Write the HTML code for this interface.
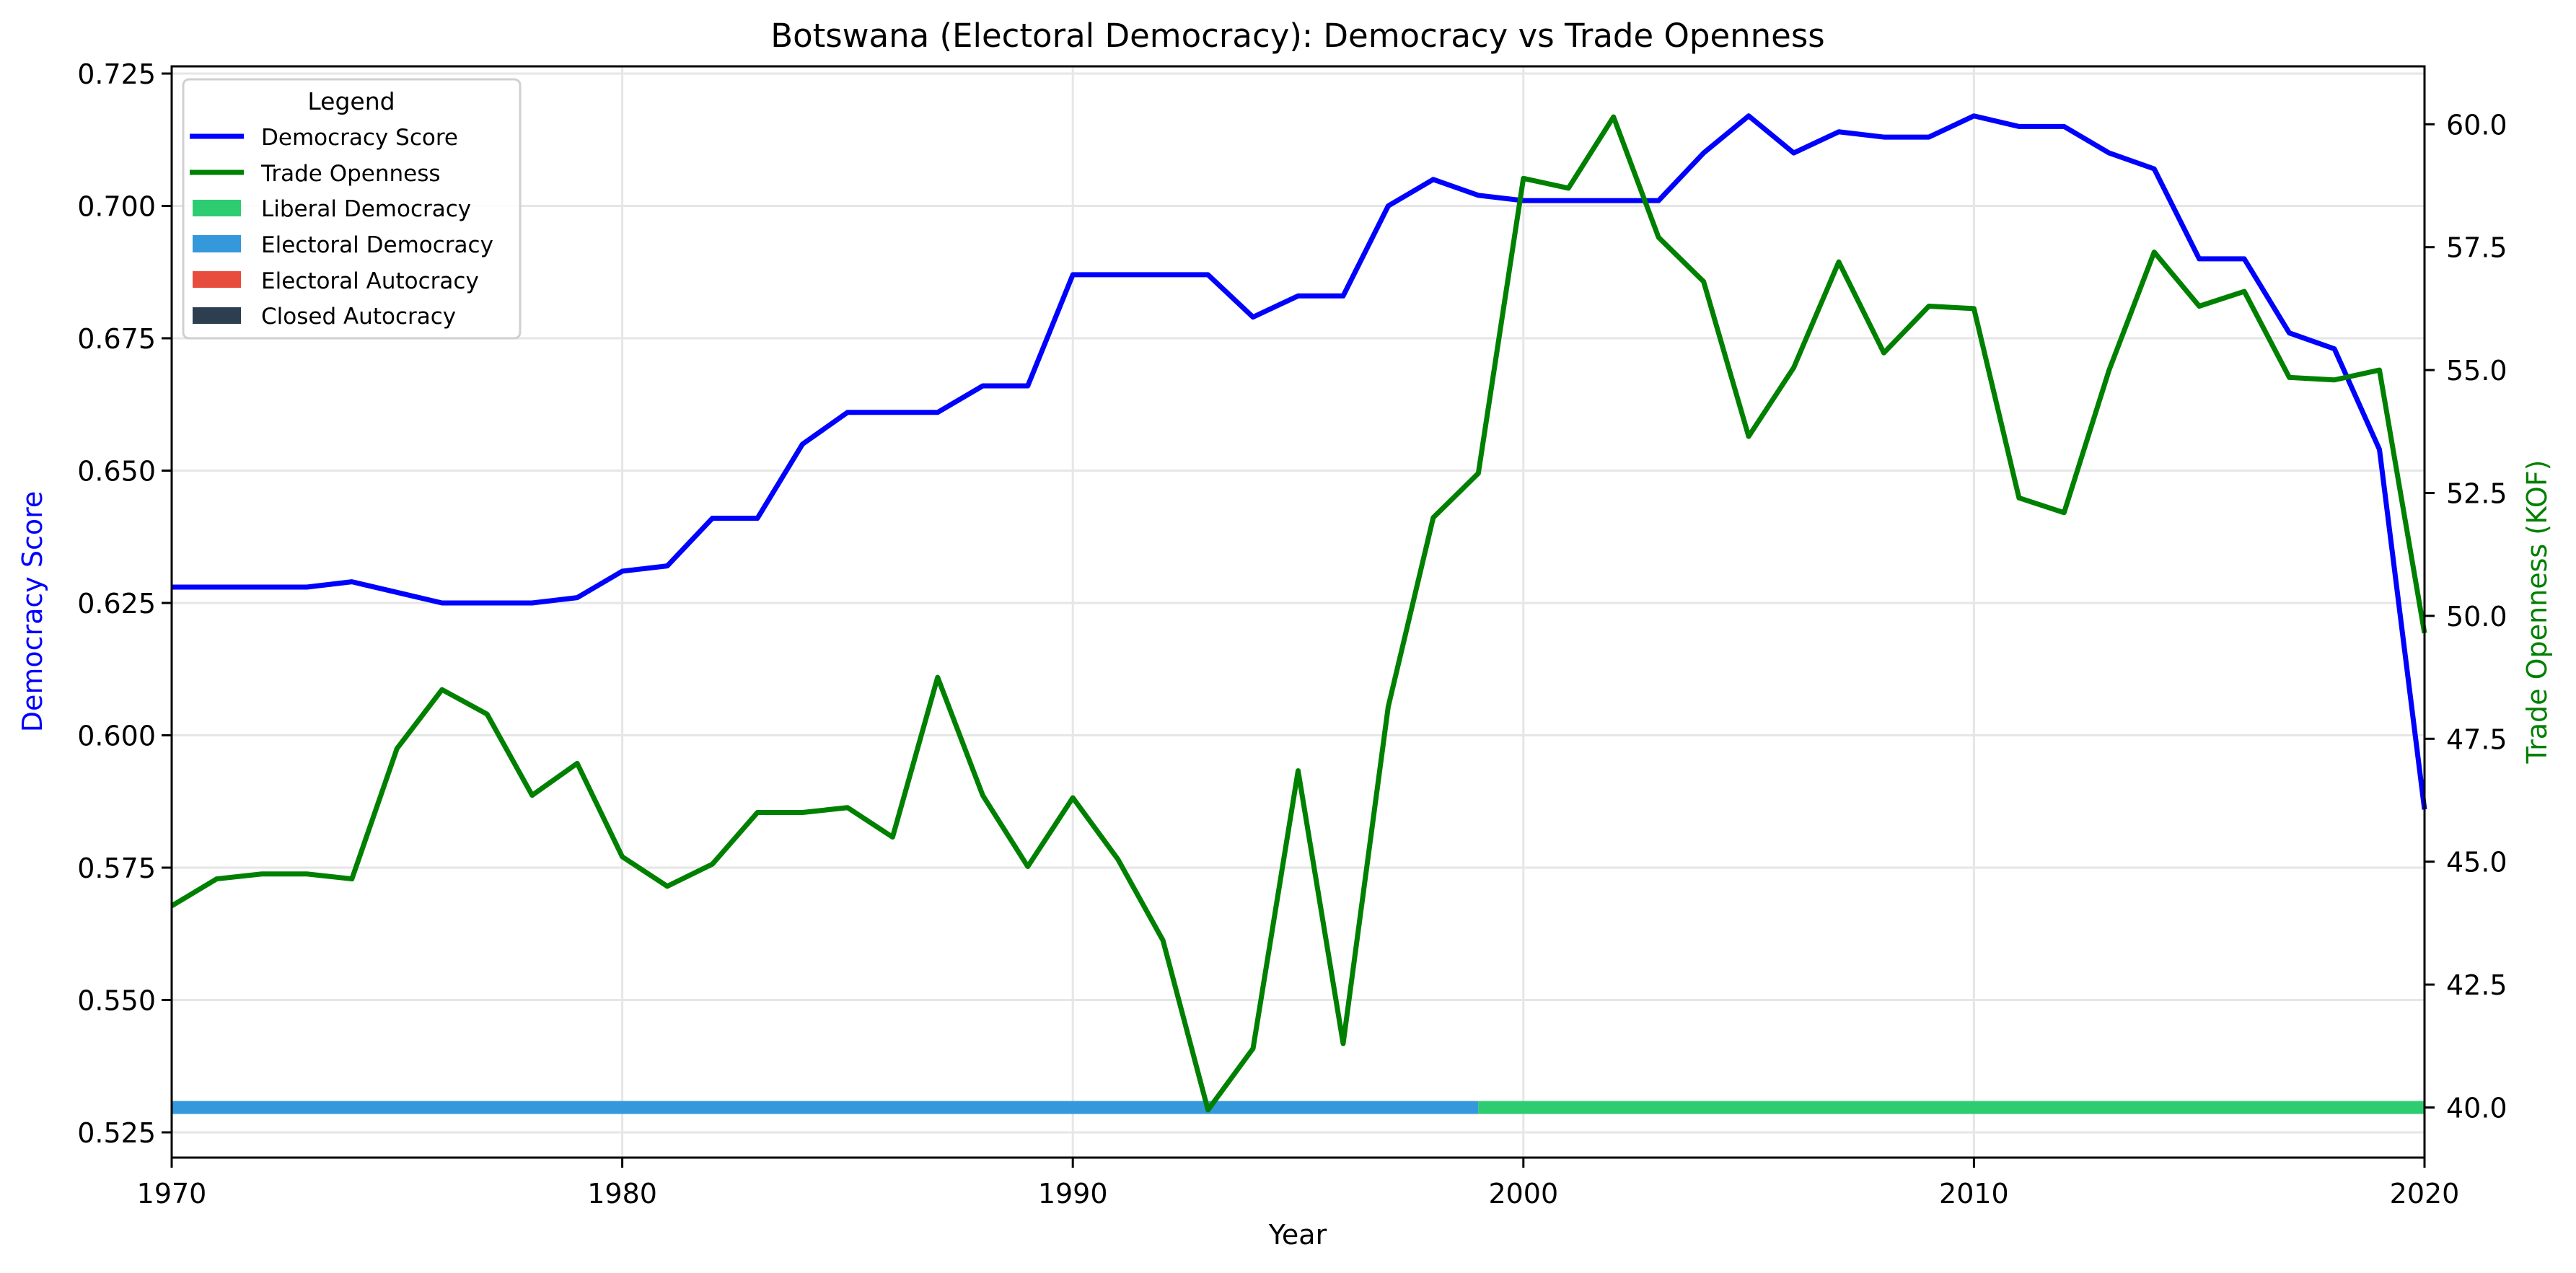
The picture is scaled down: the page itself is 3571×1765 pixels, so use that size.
<!DOCTYPE html>
<html><head><meta charset="utf-8"><style>
html,body{margin:0;padding:0;background:#fff;}
svg{display:block;font-family:"DejaVu Sans","Liberation Sans",sans-serif;}
</style></head><body>
<svg id="chart" width="3571" height="1765" viewBox="0 0 3571 1765" xmlns="http://www.w3.org/2000/svg">
<rect width="3571" height="1765" fill="#fff"/>
<g id="grid"></g>
<g id="bands"></g>
<g id="series"></g>
<g id="axes"></g>
<text x="1799" y="65" font-size="45" text-anchor="middle">Botswana (Electoral Democracy): Democracy vs Trade Openness</text>
<text x="1799" y="1725" font-size="38" text-anchor="middle">Year</text>
<text transform="translate(58,848) rotate(-90)" font-size="38" text-anchor="middle" fill="#0000ff">Democracy Score</text>
<text transform="translate(3530,848) rotate(-90)" font-size="38" text-anchor="middle" fill="#008000">Trade Openness (KOF)</text>
<g>
<rect x="254" y="110" width="467" height="359" rx="8" fill="#fff" fill-opacity="0.85" stroke="#d0d0d0" stroke-width="3"/>
<text x="487" y="152" font-size="33" text-anchor="middle">Legend</text>
<line x1="263" y1="189" x2="338" y2="189" stroke="#0000ff" stroke-width="7"/>
<text x="362" y="201" font-size="31">Democracy Score</text>
<line x1="263" y1="239" x2="338" y2="239" stroke="#008000" stroke-width="7"/>
<text x="362" y="251" font-size="31">Trade Openness</text>
<rect x="267" y="277" width="67" height="23" fill="#2ecc71"/>
<text x="362" y="300" font-size="31">Liberal Democracy</text>
<rect x="267" y="326" width="67" height="24" fill="#3498db"/>
<text x="362" y="350" font-size="31">Electoral Democracy</text>
<rect x="267" y="376" width="67" height="23" fill="#e74c3c"/>
<text x="362" y="400" font-size="31">Electoral Autocracy</text>
<rect x="267" y="426" width="67" height="23" fill="#2c3e50"/>
<text x="362" y="449" font-size="31">Closed Autocracy</text>
</g>
</svg>
<script>
const years = [1970,1971,1972,1973,1974,1975,1976,1977,1978,1979,1980,1981,1982,1983,1984,1985,1986,1987,1988,1989,1990,1991,1992,1993,1994,1995,1996,1997,1998,1999,2000,2001,2002,2003,2004,2005,2006,2007,2008,2009,2010,2011,2012,2013,2014,2015,2016,2017,2018,2019,2020];
const democracy = [0.628,0.628,0.628,0.628,0.629,0.627,0.625,0.625,0.625,0.626,0.631,0.632,0.641,0.641,0.655,0.661,0.661,0.661,0.666,0.666,0.687,0.687,0.687,0.687,0.679,0.683,0.683,0.700,0.705,0.702,0.701,0.701,0.701,0.701,0.710,0.717,0.710,0.714,0.713,0.713,0.717,0.715,0.715,0.710,0.707,0.690,0.690,0.676,0.673,0.654,0.586];
const trade = [44.1,44.65,44.75,44.75,44.65,47.3,48.5,48.0,46.35,47.0,45.1,44.5,44.95,46.0,46.0,46.1,45.5,48.75,46.35,44.9,46.3,45.05,43.4,39.95,41.2,46.85,41.3,48.15,52.0,52.9,58.9,58.7,60.15,57.7,56.8,53.65,55.05,57.2,55.35,56.3,56.25,52.4,52.1,55.0,57.4,56.3,56.6,54.85,54.8,55.0,49.65];
const bandStarts = [1970,1999];
const bandEnds = [1999,2020];
const bandColors = ['#3498db','#2ecc71'];
const bandNames = ['band-electoral-democracy','band-liberal-democracy'];
const bandLevel = 40.0;
const xTicks = [1970,1980,1990,2000,2010,2020];
const yLeftTicks = [0.525,0.550,0.575,0.600,0.625,0.650,0.675,0.700,0.725];
const yLeftLabels = ['0.525','0.550','0.575','0.600','0.625','0.650','0.675','0.700','0.725'];
const yRightTicks = [40,42.5,45,47.5,50,52.5,55,57.5,60];
const yRightLabels = ['40.0','42.5','45.0','47.5','50.0','52.5','55.0','57.5','60.0'];

const L=238,R=3361,T=92,B=1605;
const NS='http://www.w3.org/2000/svg';
const x = v => L + (v-1970)/(2020-1970)*(R-L);
const yL = v => 102 + (0.725-v)/0.025*183.5;
const yR = v => 1535.5 - (v-40)/2.5*170.4;
function mk(tag, attrs, parent){const e=document.createElementNS(NS,tag);for(const k in attrs)e.setAttribute(k,attrs[k]);parent.appendChild(e);return e;}
const grid=document.getElementById('grid'),bands=document.getElementById('bands'),series=document.getElementById('series'),axes=document.getElementById('axes');

xTicks.forEach(t=>{
  const g=mk('line',{x1:x(t),x2:x(t),y1:T,y2:B,stroke:'#e6e6e6','stroke-width':3},grid);
  
  
  const tk=mk('line',{x1:x(t),x2:x(t),y1:B,y2:B+14,stroke:'#000','stroke-width':3},axes);
  
  
  const lb=mk('text',{x:x(t),y:1668,'font-size':38,'text-anchor':'middle'},axes);
  lb.textContent=t;
  
  
});
yLeftTicks.forEach((t,i)=>{
  const g=mk('line',{x1:L,x2:R,y1:yL(t),y2:yL(t),stroke:'#e6e6e6','stroke-width':3},grid);
  
  
  const tk=mk('line',{x1:L-14,x2:L,y1:yL(t),y2:yL(t),stroke:'#000','stroke-width':3},axes);
  
  
  const lb=mk('text',{x:L-22,y:yL(t)+14,'font-size':38,'text-anchor':'end'},axes);
  lb.textContent=yLeftLabels[i];
  
  
});
yRightTicks.forEach((t,i)=>{
  const tk=mk('line',{x1:R,x2:R+14,y1:yR(t),y2:yR(t),stroke:'#000','stroke-width':3},axes);
  
  
  const lb=mk('text',{x:R+30,y:yR(t)+14,'font-size':38,'text-anchor':'start'},axes);
  lb.textContent=yRightLabels[i];
  
  
});
bandStarts.forEach((s,i)=>{
  const b=mk('rect',{x:x(s),y:yR(bandLevel)-9,width:x(bandEnds[i])-x(s),height:18,fill:bandColors[i]},bands);
  
  
});
const dp=mk('polyline',{points:years.map((y,i)=>x(y)+','+yL(democracy[i])).join(' '),fill:'none',stroke:'#0000ff','stroke-width':7,'stroke-linejoin':'round'},series);


const tp=mk('polyline',{points:years.map((y,i)=>x(y)+','+yR(trade[i])).join(' '),fill:'none',stroke:'#008000','stroke-width':7,'stroke-linejoin':'round'},series);


const fr=mk('rect',{x:L,y:T,width:R-L,height:B-T,fill:'none',stroke:'#000','stroke-width':3},axes);


</script>
</body></html>
